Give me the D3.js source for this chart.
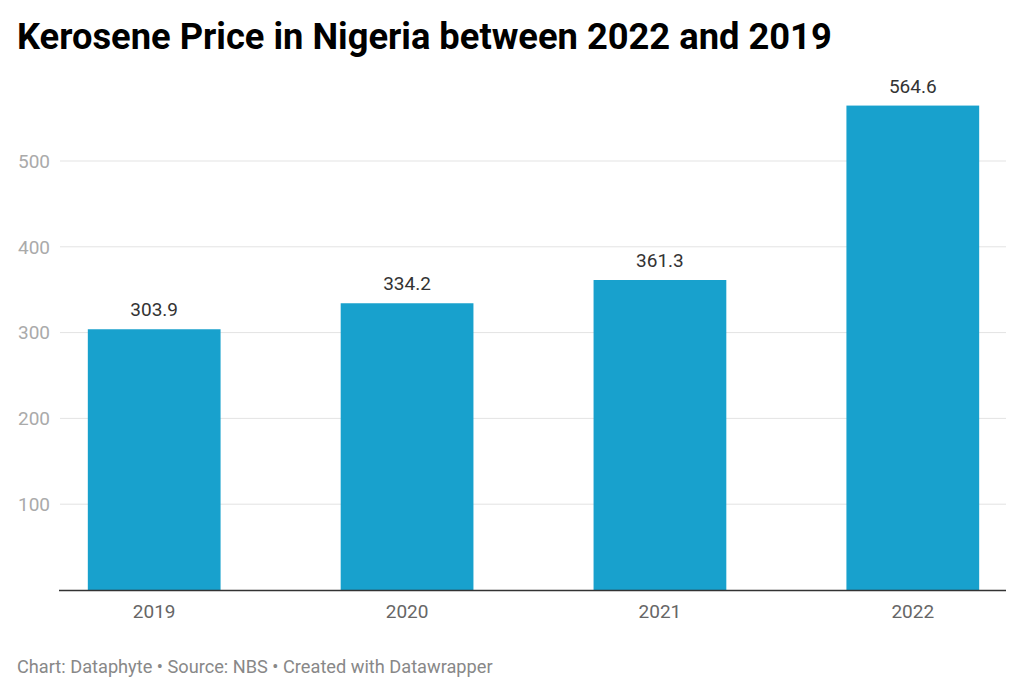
<!DOCTYPE html>
<html><head><meta charset="utf-8">
<script src="https://cdn.jsdelivr.net/npm/d3@7"></script>
<style>body{margin:0;background:#fff;font-family:Roboto,sans-serif}</style>
</head><body>
<svg id="c" width="1024" height="694"></svg>
<script>
const years = ["2019","2020","2021","2022"];
const prices = [303.9, 334.2, 361.3, 564.6];
const yTicks = [100, 200, 300, 400, 500];
const title = "Kerosene Price in Nigeria between 2022 and 2019";
const footer = "Chart: Dataphyte • Source: NBS • Created with Datawrapper";

const svg = d3.select("#c");
svg.append("rect").attr("width",1024).attr("height",694).attr("fill","#fff");
const x = d3.scaleBand().domain(years).range([60,1007]).paddingInner(0.475).paddingOuter(0.11);
const y = d3.scaleLinear().domain([0,500]).range([590,161]);

svg.append("text").attr("x",17).attr("y",49).text(title)
  .attr("font-size",36.3).attr("font-weight",700).attr("fill","#000");

const g = svg.append("g");
g.selectAll(".grid").data(yTicks).join("line")
  .attr("x1",60).attr("x2",1006).attr("y1",d=>y(d)).attr("y2",d=>y(d))
  .attr("stroke","#e3e3e3").attr("stroke-width",1);
g.selectAll(".yl").data(yTicks).join("text")
  .attr("x",50).attr("y",d=>y(d)).attr("dy","0.36em").attr("text-anchor","end")
  .attr("font-size",19).attr("fill","#aaa").text(d=>d);

g.selectAll(".bar").data(prices).join("rect")
  .attr("x",(d,i)=>x(years[i])).attr("width",x.bandwidth())
  .attr("y",d=>y(d)).attr("height",d=>y(0)-y(d)).attr("fill","#18a1cd");
g.selectAll(".vl").data(prices).join("text")
  .attr("x",(d,i)=>x(years[i])+x.bandwidth()/2).attr("y",d=>y(d)-13)
  .attr("text-anchor","middle").attr("font-size",19).attr("fill","#333")
  .text(d=>d.toFixed(1));

g.append("line").attr("x1",59).attr("x2",1006).attr("y1",590.5).attr("y2",590.5)
  .attr("stroke","#333").attr("stroke-width",1.5);
g.selectAll(".xl").data(years).join("text")
  .attr("x",d=>x(d)+x.bandwidth()/2).attr("y",618).attr("text-anchor","middle")
  .attr("font-size",19).attr("fill","#666").text(d=>d);

svg.append("text").attr("x",17).attr("y",673).text(footer)
  .attr("font-size",18.2).attr("fill","#888");
</script>
</body></html>
